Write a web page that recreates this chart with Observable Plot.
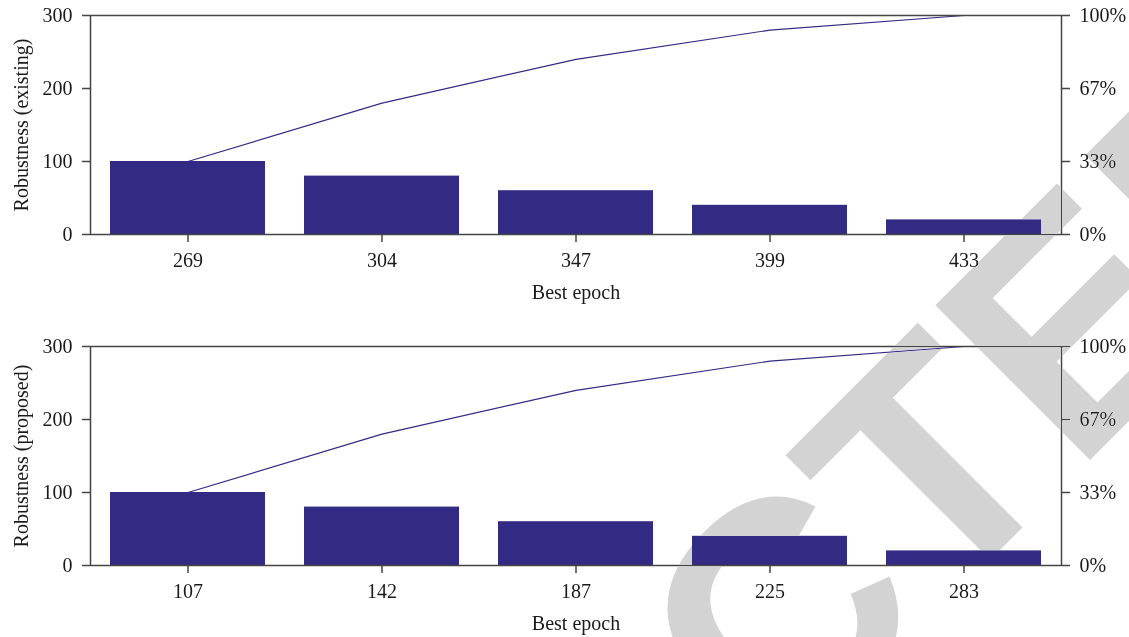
<!DOCTYPE html>
<html>
<head>
<meta charset="utf-8">
<script src="https://cdn.jsdelivr.net/npm/d3@7"></script>
<script src="https://cdn.jsdelivr.net/npm/@observablehq/plot@0.6"></script>
<style>
  html, body { margin: 0; padding: 0; background: #fff; overflow: hidden; }
  #page { position: relative; width: 1129px; height: 637px; overflow: hidden; }
  #stamp { position: absolute; left: 0; top: 0; mix-blend-mode: darken; pointer-events: none; }
</style>
</head>
<body>
<div id="page"></div>
<script>
// Robustness per best epoch, existing vs proposed training
const epochsExisting = ["269", "304", "347", "399", "433"];
const robustnessExisting = [100, 80, 60, 40, 20];
const epochsProposed = ["107", "142", "187", "225", "283"];
const robustnessProposed = [100, 80, 60, 40, 20];
const leftTicks = [0, 100, 200, 300];
const rightTickLabels = ["0%", "33%", "67%", "100%"];

const barColor = "#332a84";
const axisColor = "#444444";
const font = "'Liberation Serif', 'DejaVu Serif', serif";

function paretoPanel(epochs, values, yLabel, height, marginBottom) {
  const rows = epochs.map((e, i) => ({epoch: e, value: values[i]}));
  const cumulative = d3.cumsum(values);
  const lineRows = epochs.map((e, i) => ({epoch: e, cum: cumulative[i]}));
  return Plot.plot({
    width: 1129,
    height,
    marginTop: 15,
    marginBottom,
    marginLeft: 90,
    marginRight: 68,
    style: {fontFamily: font, fontSize: "20px", color: "#1a1a1a", background: "white"},
    x: {domain: epochs, paddingInner: 0.2, paddingOuter: 0.1},
    y: {domain: [0, 300]},
    marks: [
      Plot.barY(rows, {x: "epoch", y: "value", fill: barColor}),
      Plot.line(lineRows, {x: "epoch", y: "cum", stroke: barColor, strokeWidth: 1.2}),
      Plot.axisX({tickSize: 8, tickPadding: 10, stroke: axisColor, strokeWidth: 1.5,
                  label: "Best epoch", labelAnchor: "center", labelArrow: "none", labelOffset: 64}),
      Plot.axisY({anchor: "left", ticks: leftTicks, tickFormat: d3.format("d"), tickSize: 8, tickPadding: 10,
                  stroke: axisColor, strokeWidth: 1.5,
                  label: yLabel, labelAnchor: "center", labelArrow: "none", labelOffset: 77}),
      Plot.axisY({anchor: "right", ticks: leftTicks, tickFormat: (d, i) => rightTickLabels[i],
                  tickSize: 8, tickPadding: 10, stroke: axisColor, strokeWidth: 1.5, label: null}),
      Plot.frame({stroke: axisColor, strokeWidth: 1.5})
    ]
  });
}

const page = document.getElementById("page");
page.append(paretoPanel(epochsExisting, robustnessExisting, "Robustness (existing)", 331, 97));
page.append(paretoPanel(epochsProposed, robustnessProposed, "Robustness (proposed)", 306, 72));

// Diagonal stamp laid over both panels
const ns = "http://www.w3.org/2000/svg";
const stamp = document.createElementNS(ns, "svg");
stamp.setAttribute("id", "stamp");
stamp.setAttribute("width", 1129);
stamp.setAttribute("height", 637);
const g = document.createElementNS(ns, "g");
g.setAttribute("transform", "rotate(-45)");
[["RETRAC", "end"], ["TED", "start"]].forEach(([txt, anchor]) => {
  const t = document.createElementNS(ns, "text");
  t.setAttribute("x", 230);
  t.setAttribute("y", 1096);
  t.setAttribute("text-anchor", anchor);
  t.setAttribute("font-family", "'Liberation Sans', Arial, sans-serif");
  t.setAttribute("font-weight", "bold");
  t.setAttribute("font-size", 318);
  t.setAttribute("fill", "#d3d3d3");
  t.textContent = txt;
  g.append(t);
});
stamp.append(g);
page.append(stamp);
</script>
</body>
</html>
